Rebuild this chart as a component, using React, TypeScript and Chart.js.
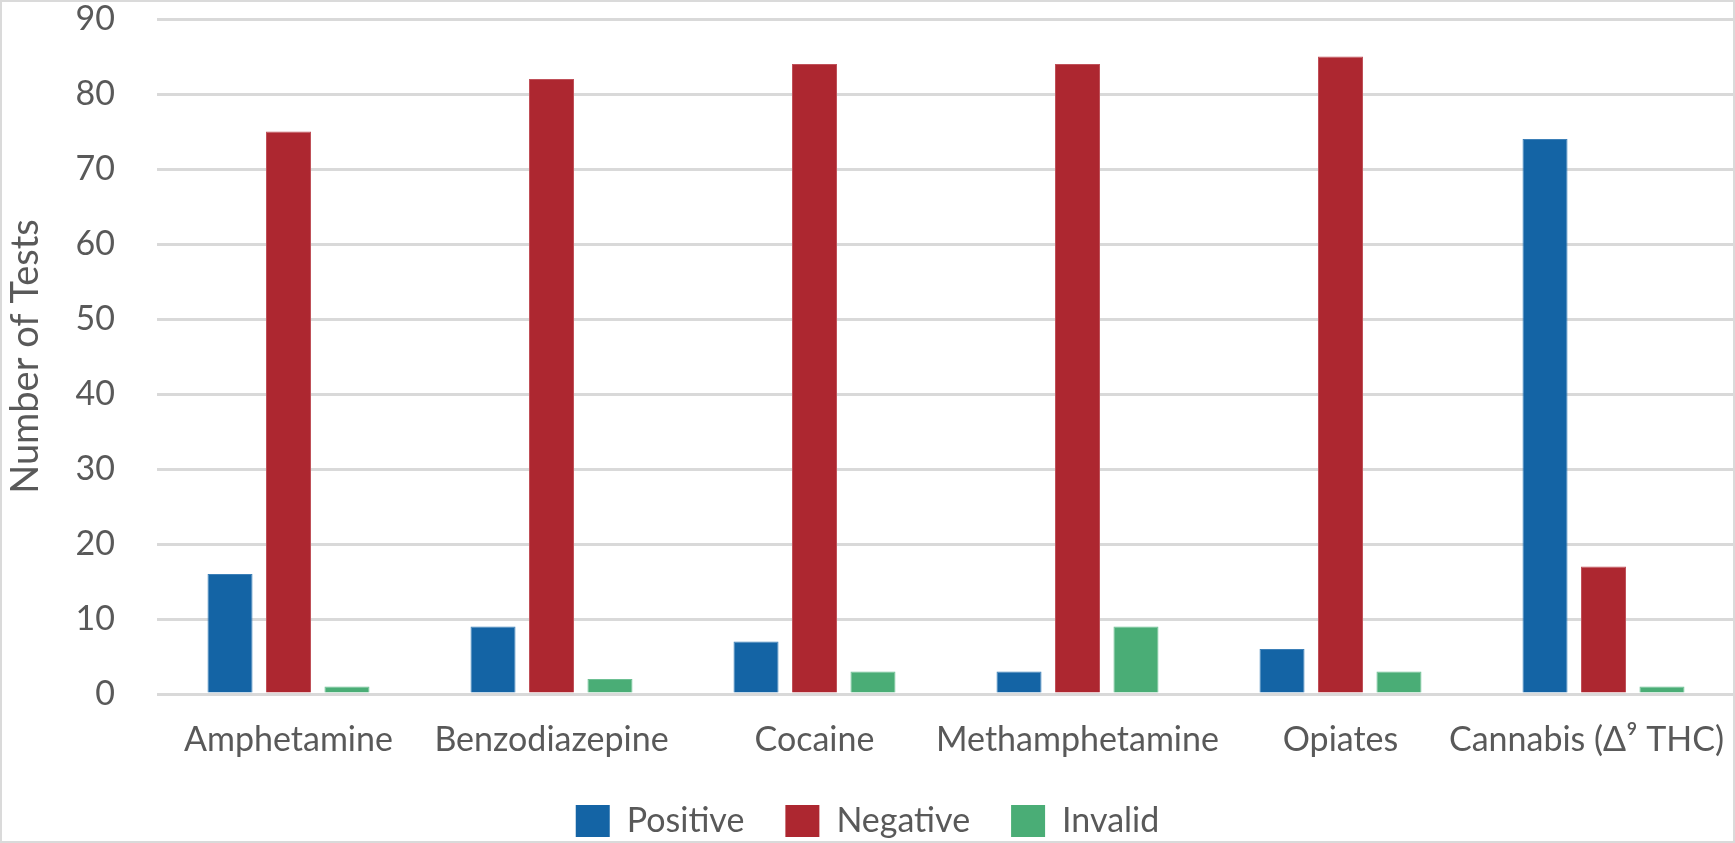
import React, { useEffect, useRef } from "react";
import { Chart, registerables } from "chart.js";

Chart.register(...registerables);

const categories = ["Amphetamine", "Benzodiazepine", "Cocaine", "Methamphetamine", "Opiates", "Cannabis (Δ⁹ THC)"];
const positiveValues = [16, 9, 7, 3, 6, 74];
const negativeValues = [75, 82, 84, 84, 85, 17];
const invalidValues = [1, 2, 3, 9, 3, 1];
const yTicks = [0, 10, 20, 30, 40, 50, 60, 70, 80, 90];

const FONT = "Lato, 'Open Sans', sans-serif";
const TEXT = "#595959";

export default function App() {
  const ref = useRef<HTMLCanvasElement | null>(null);

  useEffect(() => {
    document.body.style.margin = "0";
    const canvas = ref.current;
    if (!canvas) return;
    const chart = new Chart(canvas, {
      type: "bar",
      data: {
        labels: categories,
        datasets: [
          { label: "Positive", data: positiveValues, backgroundColor: "#1464a5", borderColor: "#3d80b8", borderWidth: 1 },
          { label: "Negative", data: negativeValues, backgroundColor: "#ad2730", borderColor: "#c0515a", borderWidth: 1 },
          { label: "Invalid", data: invalidValues, backgroundColor: "#4aad76", borderColor: "#6dc093", borderWidth: 1 },
        ],
      },
      options: {
        responsive: false,
        animation: false,
        devicePixelRatio: 1,
        layout: { padding: { top: 19, right: 0, bottom: 2, left: 0 } },
        datasets: {
          bar: { categoryPercentage: 0.667, barPercentage: 0.77 },
        },
        plugins: {
          tooltip: { enabled: false },
          legend: {
            position: "bottom",
            labels: {
              color: TEXT,
              font: { family: FONT, size: 34 },
              boxWidth: 34,
              boxHeight: 32,
              padding: 41,
              generateLabels: (c: any) =>
                Chart.defaults.plugins.legend.labels.generateLabels(c).map((item: any) => ({
                  ...item,
                  lineWidth: 0,
                })),
            },
          },
        },
        scales: {
          x: {
            grid: { display: false },
            border: { display: false },
            afterFit: (scale: any) => {
              scale.height = 69;
              scale.paddingRight = 0;
              scale.paddingLeft = 0;
            },
            ticks: {
              color: TEXT,
              font: { family: FONT, size: 34 },
              padding: 18,
              maxRotation: 0,
              autoSkip: false,
              callback: (_v: any, i: number) =>
                i === categories.length - 1 ? categories[i] + "\u2002\u2002" : categories[i],
            },
          },
          y: {
            min: 0,
            max: 90,
            afterBuildTicks: (scale: any) => {
              scale.ticks = yTicks.map((v) => ({ value: v }));
            },
            afterFit: (scale: any) => {
              scale.width = 157;
              scale.paddingTop = 0;
              scale.paddingBottom = 0;
            },
            grid: { color: "#d9d9d9", lineWidth: 3, drawTicks: false },
            border: { display: false },
            ticks: {
              color: TEXT,
              font: { family: FONT, size: 34 },
              padding: 42,
            },
            title: {
              display: true,
              text: "Number of Tests",
              color: TEXT,
              font: { family: FONT, size: 38 },
              padding: { top: 3, bottom: 0 },
            },
          },
        },
      },
    });
    return () => chart.destroy();
  }, []);

  return (
    <div
      style={{
        position: "relative",
        width: 1735,
        height: 843,
        background: "#ffffff",
        overflow: "hidden",
      }}
    >
      <canvas ref={ref} width={1735} height={850} style={{ display: "block" }} />
      <div
        style={{
          position: "absolute",
          left: 0,
          top: 0,
          width: 1735,
          height: 843,
          boxSizing: "border-box",
          border: "2px solid #dadada",
          pointerEvents: "none",
        }}
      />
    </div>
  );
}
